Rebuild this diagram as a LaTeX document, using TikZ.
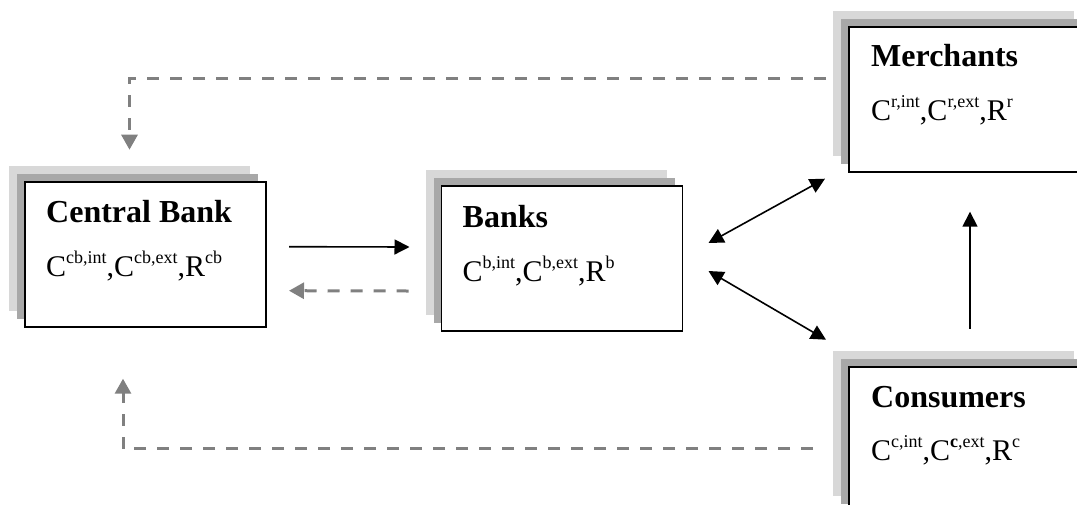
\documentclass[tikz,border=0pt]{standalone}
\usepackage{fontspec}
\setmainfont{Liberation Serif}
\usetikzlibrary{arrows.meta,calc,shadows}
\definecolor{shadelight}{HTML}{D8D8D8}
\definecolor{shadedark}{HTML}{A8A8A8}
\definecolor{flowgray}{HTML}{808080}
% superscript of a holding symbol
\newcommand{\supx}[1]{\raisebox{13pt}{\fontsize{18}{18}\selectfont #1}}
\tikzset{
  sector/.style={draw=black, line width=1.6pt, fill=white,
    minimum width=241pt, minimum height=145pt, inner sep=0pt, outer sep=0pt,
    anchor=north west,
    general shadow={fill=shadelight, shadow xshift=-16pt, shadow yshift=16pt},
    general shadow={fill=shadedark, shadow xshift=-8pt, shadow yshift=8pt}},
  title/.style={anchor=base west, inner sep=0pt, font=\fontsize{32}{32}\selectfont\bfseries},
  holdings/.style={anchor=base west, inner sep=0pt, font=\fontsize{30}{30}\selectfont},
  flow/.style={draw=black, line width=1.6pt, -{Triangle[length=15pt,width=15pt]}},
  twoway/.style={draw=black, line width=1.6pt,
    {Triangle[length=15pt,width=15pt]}-{Triangle[length=15pt,width=15pt]}},
  feedback/.style={draw=flowgray, line width=3pt, dash pattern=on 12pt off 11pt,
    -{Triangle[length=15pt,width=16pt]}},
}
\begin{document}
\begin{tikzpicture}[x=1pt,y=-1pt]
\useasboundingbox (0,0) rectangle (1077,504);
\clip (0,0) rectangle (1077,504);

% sectors
\node[sector] (cb)    at (25,181.7)  {};
\node[sector] (banks) at (441.5,186) {};
\node[sector] (merch) at (849,26.7)  {};
\node[sector] (cons)  at (849,366.7) {};

% labels and holdings
\node[title]    (cbt) at ($(cb.north west)+(21,41)$) {Central Bank};
\node[holdings] (cbh) at ($(cb.north west)+(21,95)$) {C\supx{cb,int},C\supx{cb,ext},R\supx{cb}};
\node[title]    (bkt) at ($(banks.north west)+(21,41)$) {Banks};
\node[holdings] (bkh) at ($(banks.north west)+(21,95)$) {C\supx{b,int},C\supx{b,ext},R\supx{b}};
\node[title]    (mrt) at ($(merch.north west)+(22,40)$) {Merchants};
\node[holdings] (mrh) at ($(merch.north west)+(22,94)$) {C\supx{r,int},C\supx{r,ext},R\supx{r}};
\node[title]    (cst) at ($(cons.north west)+(22,41)$) {Consumers};
\node[holdings] (csh) at ($(cons.north west)+(22,94)$) {C\supx{c,int},C\supx{\textbf{c},ext},R\supx{c}};

% flows between sectors
\draw[flow] ($(cb.north east)+(23,65)$) -- ($(banks.north west)+(-32,61)$);
\draw[feedback] ($(banks.north west)+(-33,105)$) -- ($(cb.north east)+(23,109)$);
\draw[twoway] ($(banks.north east)+(26,57)$) -- ($(merch.south west)+(-24,7)$);
\draw[twoway] ($(banks.north east)+(26,85)$) -- ($(cons.north west)+(-23,-27)$);
\draw[flow] ($(cons.north west)+(121,-38)$) -- ($(merch.south west)+(121,40)$);
\draw[feedback] ($(merch.north west)+(-23,52)$) -| ($(cb.north west)+(104.5,-32)$);
\draw[feedback] ($(cons.north west)+(-36,82)$) -| ($(cb.south west)+(98,52)$);
\end{tikzpicture}
\end{document}
